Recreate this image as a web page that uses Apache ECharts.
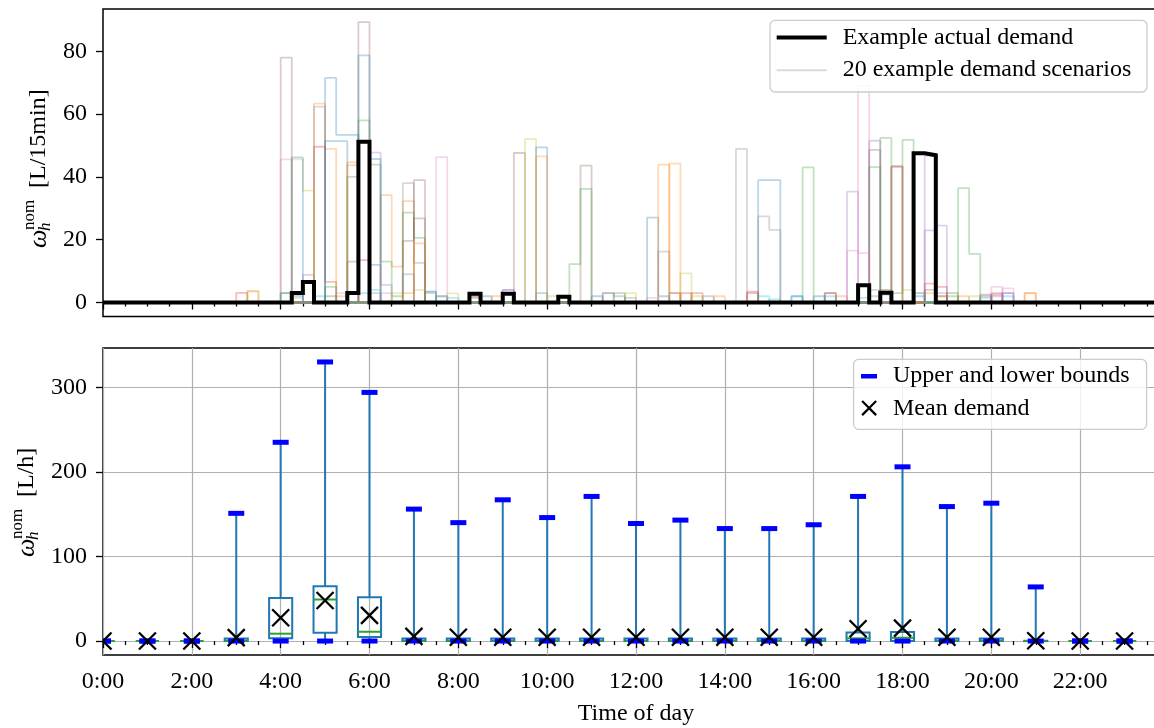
<!DOCTYPE html>
<html><head><meta charset="utf-8">
<script src="https://cdn.jsdelivr.net/npm/echarts@6/dist/echarts.min.js"></script>
<style>html,body{margin:0;padding:0;background:#fff}#chart{width:1154px;height:728px}</style>
</head><body><div id="chart"></div>
<script>
// ---------- Top panel data: 96 quarter-hour steps (index k = k*15 min) ----------
const actualDemand = [
  0,0,0,0,0,0,0,0,0,0,0,0,0,0,0,0,           // 0:00-3:45
  0,3,6.5,0,0,0,3,51.2,0,0,0,0,0,0,0,0,      // 4:00-7:45
  0,2.8,0,0,2.8,0,0,0,0,1.8,0,0,0,0,0,0,     // 8:00-11:45
  0,0,0,0,0,0,0,0,0,0,0,0,0,0,0,0,           // 12:00-15:45
  0,0,0,0,5.5,0,3.1,0,0,47.5,46.9,0,0,0,0,0, // 16:00-19:45
  0,0,0,0,0,0,0,0,0,0,0,0,0,0,0,0            // 20:00-23:45
];
// 20 demand scenarios: [quarter-hour index, value] (all other steps are zero)
const scenario01 = [[16,3],[20,71.5],[21,53.4],[22,53.4],[24,12],[29,3.5],[34,2],[39,3],[49,27],[50,2],[59,39],[60,39],[64,2],[70,2.5],[79,2]];
const scenario02 = [[13,3.7],[19,63.3],[20,48.9],[21,2],[22,44.6],[25,34.2],[26,11.4],[27,32.3],[35,2],[50,43.9],[51,3],[66,2],[73,3],[83,3]];
const scenario03 = [[17,2],[22,40],[23,58],[24,43.9],[25,13],[26,2],[27,28.6],[28,20.6],[63,43],[70,52.4],[71,3],[72,51.8],[76,2]];
const scenario04 = [[12,3.1],[19,49.6],[20,6.6],[30,2],[52,3],[58,3.5],[71,43.3],[75,5],[79,2.5]];
const scenario05 = [[18,8.8],[24,47.7],[25,5.6],[36,4],[67,35.3],[74,46.7],[75,24.5],[80,2],[81,3]];
const scenario06 = [[16,78],[22,13],[23,89.3],[28,39],[37,47.6],[43,43.6],[51,3],[74,4],[76,3],[80,3]];
const scenario07 = [[16,45.6],[21,3],[30,46.3],[49,1.5],[68,69],[81,4.5]];
const scenario08 = [[19,62.4],[27,38],[28,12.6],[45,3],[47,1.5],[50,16.2],[57,48.9],[59,27.4],[60,23.1],[69,2]];
const scenario09 = [[17,45.6],[18,35.6],[28,4],[31,2.9],[38,52],[47,3],[52,9.3],[70,4],[75,2]];
const scenario10 = [[17,2.5],[23,3],[29,3.5],[31,1.5],[33,2],[60,1],[62,2],[68,1.5],[81,2]];
const scenario11 = [[17,46.2],[20,51.4],[21,51.4],[23,78.7],[24,45.7],[39,49.4],[44,2],[62,2],[73,2]];
const scenario12 = [[22,43.7],[27,3],[28,18.8],[39,46.5],[51,44.2],[55,2],[74,3],[77,2],[83,3]];
const scenario13 = [[16,3],[20,5],[42,12.2],[43,36.2],[46,3],[69,43.1],[77,36.4],[78,15.5]];
const scenario14 = [[23,13.5],[33,1.5],[53,3],[58,3],[65,3],[74,6],[75,2],[80,2.5]];
const scenario15 = [[24,3],[36,4],[69,51.5],[74,23],[75,3],[81,3]];
const scenario16 = [[20,2],[27,19.6],[28,26.8],[33,2],[65,3],[69,48.6],[71,43.3]];
const scenario17 = [[17,1.5],[25,3],[67,16.5],[68,15.7],[80,5]];
const scenario18 = [[27,9],[29,3],[45,3],[46,2],[54,2],[69,4],[70,4]];
const scenario19 = [[13,3.5],[26,3],[40,2],[53,2],[72,4],[78,2]];
const scenario20 = [[19,2],[24,4],[30,2],[59,2],[65,2],[73,3],[79,1.5]];
const scenarios = [scenario01,scenario02,scenario03,scenario04,scenario05,scenario06,scenario07,scenario08,scenario09,scenario10,
                   scenario11,scenario12,scenario13,scenario14,scenario15,scenario16,scenario17,scenario18,scenario19,scenario20];

// ---------- Bottom panel data: hourly ----------
const hours      = [0,1,2,3,4,5,6,7,8,9,10,11,12,13,14,15,16,17,18,19,20,21,22,23];
const upperBound = [0,0,0,151,235,330,294,156,140,167,146,171,139,143,133,133,137.5,171,206,159,163,64,0,0];
const lowerBound = [0,0,0,0,0,0,0,0,0,0,0,0,0,0,0,0,0,0,0,0,0,0,0,0];
const boxQ1      = [0,0,0,0,3.2,9.8,4.7,0,0,0,0,0,0,0,0,0,0,0,0,0,0,0,0,0];
const boxMedian  = [0,0,0,0.5,8.7,49.1,11,0.5,0.5,0.5,0.5,0.5,0.5,0.5,0.5,0.5,0.5,3.2,3.9,0.5,0.5,0,0,0];
const boxQ3      = [0,0,0,3,51,64.8,51.8,3,3,3,3,3,3,3,3,3,3,10,10.6,3,3,0.3,0,0];
const meanDemand = [0,0,0,4,27.5,48,30.3,5.5,4.5,4.5,4.5,4.5,4.5,4.5,4.5,4.5,4.5,14.6,15.3,4.5,4.5,0.3,0,0];

const topYTicks = [0,20,40,60,80];
const bottomYTicks = [0,100,200,300];

// ---------- build ----------
const FONT = 'Liberation Serif';
const FS = 24;
const tab10 = ['#1f77b4','#ff7f0e','#2ca02c','#d62728','#9467bd','#8c564b','#e377c2','#7f7f7f','#bcbd22','#17becf'];
const N = 96;
function stepPoints(values) {
  const pts = values.map((v, k) => [k / 4, v]);
  pts.push([N / 4, values[N - 1]]);
  return pts;
}
function expand(pairs) {
  const v = new Array(N).fill(0);
  pairs.forEach(p => { v[p[0]] = p[1]; });
  return v;
}

const series = [];
scenarios.forEach((sc, i) => {
  series.push({
    type: 'line', xAxisIndex: 0, yAxisIndex: 0, step: 'end', showSymbol: false, silent: true,
    data: stepPoints(expand(sc)), z: 2,
    lineStyle: { color: tab10[i % 10], width: 1.8, opacity: 0.3 }
  });
});
series.push({ name: '20 example demand scenarios', type: 'line', xAxisIndex: 0, yAxisIndex: 0, data: [], color: '#d9d9d9' });
series.push({
  name: 'Example actual demand', type: 'line', xAxisIndex: 0, yAxisIndex: 0, step: 'end', showSymbol: false, silent: true,
  data: stepPoints(actualDemand), z: 3, color: '#000',
  lineStyle: { color: '#000', width: 4, join: 'miter' }
});

const boxData = hours.map((h, i) => [h, lowerBound[i], boxQ1[i], boxMedian[i], boxQ3[i], upperBound[i]]);
series.push({
  type: 'custom', xAxisIndex: 1, yAxisIndex: 1, clip: true, silent: true, z: 2,
  data: boxData, encode: { x: 0, y: [1, 2, 3, 4, 5] },
  renderItem: function (params, api) {
    const h = api.value(0);
    const pLo = api.coord([h, api.value(1)]);
    const pQ1 = api.coord([h, api.value(2)]);
    const pMed = api.coord([h, api.value(3)]);
    const pQ3 = api.coord([h, api.value(4)]);
    const pUp = api.coord([h, api.value(5)]);
    const hw = api.size([0.52, 0])[0] / 2;
    const blue = '#1f77b4';
    return { type: 'group', children: [
      { type: 'line', shape: { x1: pLo[0], y1: pLo[1], x2: pQ1[0], y2: pQ1[1] }, style: { stroke: blue, lineWidth: 2 } },
      { type: 'line', shape: { x1: pQ3[0], y1: pQ3[1], x2: pUp[0], y2: pUp[1] }, style: { stroke: blue, lineWidth: 2 } },
      { type: 'rect', shape: { x: pQ1[0] - hw, y: pQ3[1], width: 2 * hw, height: pQ1[1] - pQ3[1] }, style: { fill: 'none', stroke: blue, lineWidth: 2 } },
      { type: 'line', shape: { x1: pMed[0] - hw, y1: pMed[1], x2: pMed[0] + hw, y2: pMed[1] }, style: { stroke: '#2ca02c', lineWidth: 2 } }
    ]};
  }
});
const boundsData = [];
hours.forEach((h, i) => { boundsData.push([h, upperBound[i]]); boundsData.push([h, lowerBound[i]]); });
series.push({
  name: 'Upper and lower bounds', type: 'custom', xAxisIndex: 1, yAxisIndex: 1, clip: true, silent: true, z: 3,
  data: boundsData, encode: { x: 0, y: 1 }, itemStyle: { color: '#0000ff' },
  renderItem: function (params, api) {
    const p = api.coord([api.value(0), api.value(1)]);
    return { type: 'rect', shape: { x: p[0] - 8, y: p[1] - 2.5, width: 16, height: 5 }, style: { fill: '#0000ff' } };
  }
});
series.push({
  name: 'Mean demand', type: 'custom', xAxisIndex: 1, yAxisIndex: 1, clip: true, silent: true, z: 4,
  data: hours.map((h, i) => [h, meanDemand[i]]), encode: { x: 0, y: 1 }, itemStyle: { color: '#000' },
  renderItem: function (params, api) {
    const p = api.coord([api.value(0), api.value(1)]);
    const s = 8.5;
    return { type: 'group', children: [
      { type: 'line', shape: { x1: p[0] - s, y1: p[1] - s, x2: p[0] + s, y2: p[1] + s }, style: { stroke: '#000', lineWidth: 2.3 } },
      { type: 'line', shape: { x1: p[0] - s, y1: p[1] + s, x2: p[0] + s, y2: p[1] - s }, style: { stroke: '#000', lineWidth: 2.3 } }
    ]};
  }
});

const axisTickStyle = { color: '#000', width: 1.3 };
function xAxisCfg(grid, labels) {
  return {
    type: 'value', gridIndex: grid, min: 0, max: 24, interval: 2,
    axisLine: { show: false },
    axisTick: { show: true, length: 7, lineStyle: axisTickStyle },
    minorTick: { show: true, splitNumber: 4, length: 4, lineStyle: axisTickStyle },
    axisLabel: { show: labels, margin: 15, fontFamily: FONT, fontSize: FS, color: '#000',
      formatter: v => (v >= 24 ? '' : v + ':00') },
    splitLine: { show: grid === 1, lineStyle: { color: '#b0b0b0', width: 1.2 } },
    minorSplitLine: { show: false }
  };
}
const ICON_BLACK = 'path://M0,0L0.05,0L0,0.05Z M0,6H50V10H0Z M61,16L60.95,16L61,15.95Z';
const ICON_GRAY  = 'path://M0,0L0.05,0L0,0.05Z M0,7H50V9H0Z M61,16L60.95,16L61,15.95Z';
const ICON_BOUND = 'path://M0,0L0.05,0L0,0.05Z M0,6H16V10.5H0Z M27,16L26.95,16L27,15.95Z';
const ICON_MEAN  = 'path://M0,0L0.05,0L0,0.05Z M1.6,-0.4L8,6L14.4,-0.4L16,1.2L9.6,7.6L16,14L14.4,15.6L8,9.2L1.6,15.6L0,14L6.4,7.6L0,1.2Z M27,16L26.95,16L27,15.95Z';

const legendText = { fontFamily: FONT, fontSize: FS, color: '#000' };
const boxStyle = { fill: 'rgba(255,255,255,0.8)', stroke: '#cccccc', lineWidth: 1.3 };

function yLabel(x, y, unit) {
  return { type: 'group', x: x, y: y, rotation: Math.PI / 2, children: [
    { type: 'text', x: 0, y: 0, style: { text: 'ω', fontFamily: FONT, fontStyle: 'italic', fontSize: 26, fill: '#000', align: 'left', verticalAlign: 'middle' } },
    { type: 'text', x: 18, y: -9, style: { text: 'nom', fontFamily: FONT, fontSize: 17, fill: '#000', align: 'left', verticalAlign: 'middle' } },
    { type: 'text', x: 17, y: 7, style: { text: 'h', fontFamily: FONT, fontStyle: 'italic', fontSize: 17, fill: '#000', align: 'left', verticalAlign: 'middle' } },
    { type: 'text', x: 60, y: 0, style: { text: unit, fontFamily: FONT, fontSize: FS, fill: '#000', align: 'left', verticalAlign: 'middle' } }
  ]};
}

const option = {
  animation: false,
  backgroundColor: '#fff',
  grid: [
    { left: 103, top: 9, width: 1066, height: 307.5, outerBoundsMode: 'none', containLabel: false,
      show: true, borderColor: '#000', borderWidth: 1.5, backgroundColor: 'transparent' },
    { left: 103, top: 348, width: 1066, height: 307, outerBoundsMode: 'none', containLabel: false,
      show: true, borderColor: '#000', borderWidth: 1.5, backgroundColor: 'transparent' }
  ],
  xAxis: [
    xAxisCfg(0, false),
    Object.assign(xAxisCfg(1, true), { name: 'Time of day', nameLocation: 'middle', nameGap: 47,
      nameTextStyle: { fontFamily: FONT, fontSize: FS, color: '#000' } })
  ],
  yAxis: [
    { type: 'value', gridIndex: 0, min: -4.45, max: 93.45,
      axisLine: { show: false },
      axisTick: { show: true, length: 7, lineStyle: axisTickStyle, customValues: topYTicks },
      axisLabel: { margin: 16, fontFamily: FONT, fontSize: FS, color: '#000', customValues: topYTicks },
      splitLine: { show: false } },
    { type: 'value', gridIndex: 1, min: -16.5, max: 346.5,
      axisLine: { show: false },
      axisTick: { show: true, length: 7, lineStyle: axisTickStyle, customValues: bottomYTicks },
      axisLabel: { margin: 16, fontFamily: FONT, fontSize: FS, color: '#000', customValues: bottomYTicks },
      splitLine: { show: true, lineStyle: { color: '#b0b0b0', width: 1.2 } } }
  ],
  legend: [
    { left: 776.7, top: 25.5, orient: 'vertical', itemWidth: 61, itemHeight: 16, itemGap: 8.7, padding: 0,
      selectedMode: false, z: 10, textStyle: legendText, itemStyle: { borderWidth: 0 },
      data: [ { name: 'Example actual demand', icon: ICON_BLACK, itemStyle: { color: '#000' } },
              { name: '20 example demand scenarios', icon: ICON_GRAY, itemStyle: { color: '#d9d9d9' } } ] },
    { left: 861, top: 364, orient: 'vertical', itemWidth: 27, itemHeight: 16, itemGap: 8.3, padding: 0,
      selectedMode: false, z: 10, textStyle: legendText, itemStyle: { borderWidth: 0 },
      data: [ { name: 'Upper and lower bounds', icon: ICON_BOUND, itemStyle: { color: '#0000ff' } },
              { name: 'Mean demand', icon: ICON_MEAN, itemStyle: { color: '#000' } } ] }
  ],
  graphic: { elements: [
    { type: 'rect', z: 5, shape: { x: 770, y: 20.4, width: 377, height: 71.6, r: 5 }, style: boxStyle },
    { type: 'rect', z: 5, shape: { x: 853.6, y: 359.3, width: 293, height: 70, r: 5 }, style: boxStyle },
    yLabel(39, 248, '[L/15min]'),
    yLabel(27, 557, '[L/h]')
  ]},
  series: series
};
const chart = echarts.init(document.getElementById('chart'), null, { renderer: 'canvas' });
chart.setOption(option);
</script>
</body></html>
